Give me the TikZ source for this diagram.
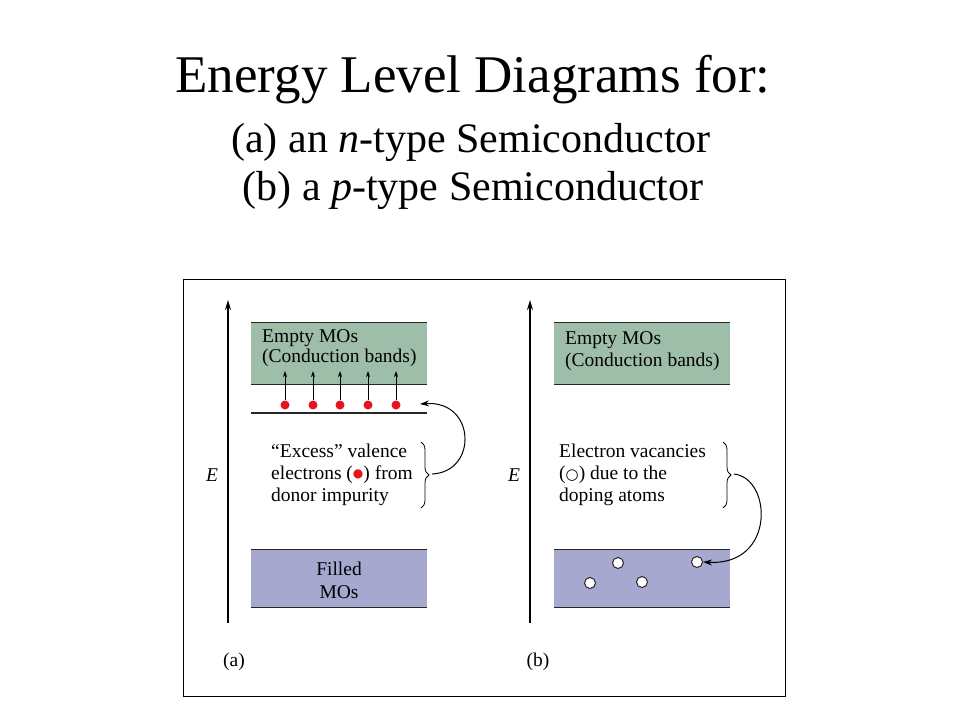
\documentclass[tikz,border=0pt]{standalone}
\usepackage{fontspec}
\setmainfont{Liberation Serif}
\newfontfamily\symfont{DejaVu Sans}
\usetikzlibrary{arrows.meta,decorations.pathreplacing}
\definecolor{condgreen}{RGB}{158,190,170}
\definecolor{valpurple}{RGB}{166,168,208}
\definecolor{donorred}{RGB}{230,20,30}
\tikzset{
  band/.style={minimum width=176pt, inner sep=0pt},
  lbl/.style={font=\fontsize{19.5}{22}\selectfont, align=left, inner sep=0pt, anchor=west},
  axis/.style={line width=1.6pt, -{Stealth[length=10pt,width=6pt]}},
  bandline/.style={line width=1.2pt, draw=black!85},
  edot/.style={circle, fill=donorred, minimum size=9pt, inner sep=0pt},
  hole/.style={circle, draw=black!85, fill=white, line width=1pt, minimum size=11pt, inner sep=0pt},
  uparr/.style={line width=0.9pt, -{Stealth[length=6pt,width=4pt]}},
  curvarr/.style={line width=1pt, -{Stealth[length=9pt,width=6pt]}},
  brc/.style={decorate, decoration={brace, amplitude=8pt}, line width=0.8pt}
}
\begin{document}
\begin{tikzpicture}[x=1pt,y=-1pt]
\useasboundingbox (0,0) rectangle (960,720);
% title
\node[font=\fontsize{53}{60}\selectfont, inner sep=0pt] (t1) at (473,80) {Energy Level Diagrams for:};
\node[font=\fontsize{42}{46}\selectfont, inner sep=0pt] (t2) at (471,142) {(a) an \textit{n}-type Semiconductor};
\node[font=\fontsize{42}{46}\selectfont, inner sep=0pt] (t3) at (473,190) {(b) a \textit{p}-type Semiconductor};
% frame
\node[draw=black, line width=1pt, minimum width=602pt, minimum height=417pt, inner sep=0pt] (frame) at (484,487.5) {};

% ===== panel (a)
\coordinate (a0) at (228,623);
\coordinate (a1) at (228,300);
\draw[axis] (a0) -- (a1);
\node[font=\fontsize{19.5}{22}\selectfont\itshape] (aE) at (212,475) {E};
\node[band, fill=condgreen, minimum height=61pt] (acb) at (339,353.5) {};
\draw[bandline] (acb.north west) -- (acb.north east);
\draw[bandline] (acb.south west) -- (acb.south east);
\node[lbl, font=\fontsize{19.5}{20}\selectfont] (acbt) at (262,348) {Empty MOs\\(Conduction bands)};
\coordinate (dl0) at (251,413);
\coordinate (dl1) at (427,413);
\draw[bandline] (dl0) -- (dl1);
\foreach \i/\x in {1/285,2/313,3/340,4/368,5/396}{
  \node[edot] (d\i) at (\x,405) {};
  \coordinate (u\i) at (\x,371);
  \draw[uparr] (d\i) -- (u\i);
}
\node[lbl] (atext) at (271,475) {\textquotedblleft Excess\textquotedblright\ valence\\electrons (\raisebox{2.5pt}{\color{donorred}\symfont\fontsize{12}{12}\selectfont ●}) from\\donor impurity};
\coordinate (abr1) at (421,442);
\coordinate (abr2) at (421,508);
\draw[brc] (abr1) -- (abr2);
\coordinate (abtip) at (432,474);
\coordinate (aatip) at (420,404);
\draw[curvarr] (abtip) .. controls (478,472) and (476,400) .. (aatip);
\node[band, fill=valpurple, minimum height=57pt] (avb) at (339,578.5) {};
\draw[bandline] (avb.north west) -- (avb.north east);
\draw[bandline] (avb.south west) -- (avb.south east);
\node[font=\fontsize{19.5}{23}\selectfont, align=center, inner sep=0pt] (avbt) at (339,580) {Filled\\MOs};
\node[font=\fontsize{19.5}{22}\selectfont, inner sep=0pt] (alab) at (234,662) {(a)};

% ===== panel (b)
\coordinate (b0) at (530,623);
\coordinate (b1) at (530,300);
\draw[axis] (b0) -- (b1);
\node[font=\fontsize{19.5}{22}\selectfont\itshape] (bE) at (514,475) {E};
\node[band, fill=condgreen, minimum height=61pt] (bcb) at (642,353.5) {};
\draw[bandline] (bcb.north west) -- (bcb.north east);
\draw[bandline] (bcb.south west) -- (bcb.south east);
\node[lbl] (bcbt) at (565,351) {Empty MOs\\(Conduction bands)};
\node[lbl] (btext) at (559,475) {Electron vacancies\\(\raisebox{0.5pt}{\symfont\fontsize{15}{15}\selectfont ○}) due to the\\doping atoms};
\coordinate (bbr1) at (723,442);
\coordinate (bbr2) at (723,508);
\draw[brc] (bbr1) -- (bbr2);
\coordinate (bbtip) at (734,474);
\node[band, fill=valpurple, minimum height=57pt] (bvb) at (642,578.5) {};
\draw[bandline] (bvb.north west) -- (bvb.north east);
\draw[bandline] (bvb.south west) -- (bvb.south east);
\node[hole] (h1) at (618,563) {};
\node[hole] (h2) at (590,583) {};
\node[hole] (h3) at (642,582) {};
\node[hole] (h4) at (697,562) {};
\draw[curvarr] (bbtip) .. controls (772,478) and (776,566) .. (h4.east);
\node[font=\fontsize{19.5}{22}\selectfont, inner sep=0pt] (blab) at (538,662) {(b)};
\end{tikzpicture}
\end{document}
